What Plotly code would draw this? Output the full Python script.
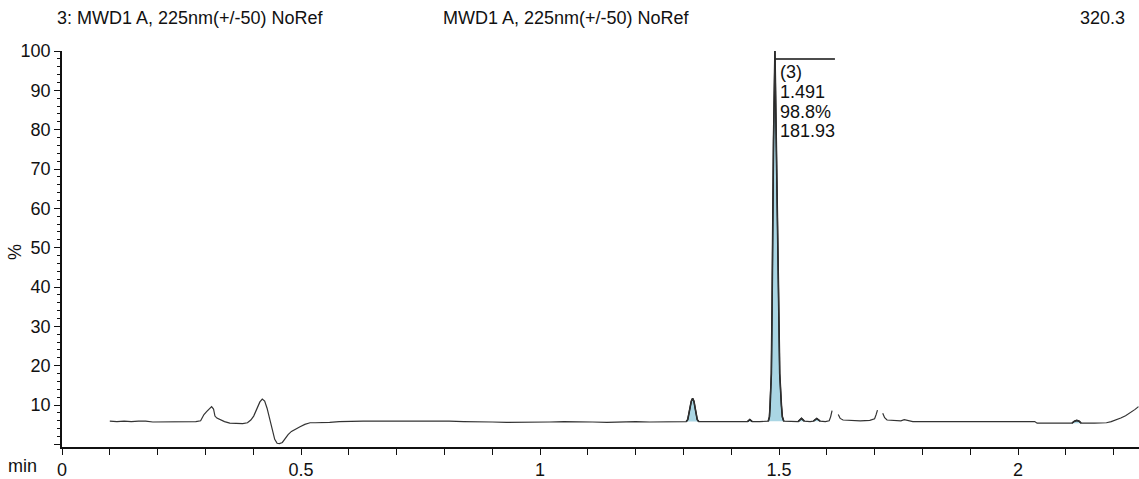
import plotly.graph_objects as go

# ---------------- data ----------------
time_min = [
    0.100, 0.115, 0.130, 0.145, 0.160, 0.175, 0.190, 0.205, 0.220, 0.235, 0.250, 0.265, 0.280,
    0.290, 0.297, 0.303, 0.308, 0.313, 0.317, 0.320, 0.324, 0.331, 0.340, 0.351, 0.365, 0.378,
    0.388, 0.395, 0.401, 0.408, 0.414, 0.419, 0.424, 0.429, 0.435, 0.440, 0.445, 0.450, 0.455,
    0.461, 0.467, 0.473, 0.480, 0.488, 0.498, 0.508, 0.519, 0.530, 0.545, 0.560, 0.580, 0.600,
    0.630, 0.660, 0.690, 0.720, 0.750, 0.780, 0.810, 0.840, 0.870, 0.900, 0.930, 0.960, 0.990,
    1.020, 1.050, 1.080, 1.110, 1.140, 1.170, 1.200, 1.230, 1.260, 1.290,
    1.306, 1.309, 1.311, 1.3135, 1.3165, 1.3193, 1.322, 1.3245, 1.327, 1.329, 1.332,
    1.360, 1.390, 1.420, 1.434, 1.439, 1.444, 1.460,
    1.4700, 1.4775, 1.4800, 1.4815, 1.4840, 1.4855, 1.4865, 1.4885, 1.4915, 1.4945, 1.4975,
    1.4995, 1.5015, 1.5050, 1.5070, 1.5100,
    1.525, 1.540, 1.547, 1.553, 1.565, 1.572, 1.579, 1.586, 1.597, 1.605, 1.608, 1.611,
    1.617,
    1.624, 1.628, 1.634, 1.650, 1.670, 1.690, 1.700, 1.703, 1.706,
    1.711,
    1.717, 1.721, 1.726, 1.740, 1.755, 1.762, 1.770, 1.780, 1.820, 1.860, 1.900, 1.940, 1.980,
    2.020, 2.035, 2.040, 2.070, 2.100, 2.113, 2.118, 2.123, 2.128, 2.132, 2.160, 2.185, 2.195,
    2.205, 2.215, 2.225, 2.235, 2.245, 2.252,
]
signal_pct = [
    5.9, 5.8, 5.9, 5.8, 5.9, 5.9, 5.7, 5.7, 5.8, 5.8, 5.7, 5.8, 5.8,
    6.0, 7.6, 8.4, 8.9, 9.6, 9.0, 7.2, 6.7, 6.3, 5.8, 5.4, 5.3, 5.3,
    5.5, 6.2, 7.2, 9.0, 10.8, 11.5, 11.0, 9.2, 6.3, 3.5, 1.3, 0.3, 0.2,
    0.5, 1.5, 2.5, 3.3, 3.9, 4.5, 5.1, 5.5, 5.5, 5.5, 5.6, 5.8, 5.9,
    5.9, 5.9, 5.9, 5.9, 6.0, 5.9, 5.9, 5.8, 5.8, 5.7, 5.6, 5.6, 5.6,
    5.7, 5.8, 5.8, 5.7, 5.6, 5.7, 5.8, 5.7, 5.8, 5.8,
    5.8, 6.3, 7.5, 9.3, 11.0, 11.7, 11.0, 9.3, 7.5, 6.3, 5.8,
    5.8, 5.7, 5.8, 5.8, 6.3, 5.8, 5.8,
    5.8, 5.9, 7.0, 10.0, 18.0, 35.0, 50.0, 77.0, 100.0, 77.0, 50.0,
    35.0, 18.0, 10.0, 7.0, 5.9,
    5.8, 5.8, 6.6, 5.9, 5.8, 5.9, 6.6, 5.9, 5.8, 6.0, 7.0, 8.6,
    None,
    7.6, 6.6, 6.2, 6.1, 6.0, 6.1, 6.5, 7.5, 8.7,
    None,
    7.9, 6.8, 6.2, 6.1, 6.0, 6.3, 6.1, 5.8, 5.8, 5.8, 5.8, 5.8, 5.8,
    5.8, 5.8, 5.4, 5.4, 5.4, 5.4, 5.9, 6.1, 5.9, 5.4, 5.4, 5.5, 5.8,
    6.2, 6.7, 7.3, 8.0, 8.9, 9.6,
]

# integrated peak windows (start, end) in minutes
peak_windows = [(1.306, 1.332), (1.434, 1.444), (1.4775, 1.5100),
                (1.540, 1.553), (1.572, 1.586), (2.113, 2.132)]

# labelled peak
peak_rt = 1.491
peak_label_lines = ["(3)", "1.491", "98.8%", "181.93"]

x_tick_vals = [0.0, 0.1, 0.2, 0.3, 0.4, 0.5, 0.6, 0.7, 0.8, 0.9, 1.0, 1.1,
               1.2, 1.3, 1.4, 1.5, 1.6, 1.7, 1.8, 1.9, 2.0, 2.1, 2.2]
x_tick_labels = ["0", "", "", "", "", "0.5", "", "", "", "", "1", "",
                 "", "", "", "1.5", "", "", "", "", "2", "", ""]
y_tick_vals = [0, 10, 20, 30, 40, 50, 60, 70, 80, 90, 100]
y_tick_labels = ["", "10", "20", "30", "40", "50", "60", "70", "80", "90", "100"]

header_left = "3: MWD1 A, 225nm(+/-50) NoRef"
header_mid = "MWD1 A, 225nm(+/-50) NoRef"
header_right = "320.3"

# ---------------- figure ----------------
W, H = 1139, 479
ML, MR, MT, MB = 62, 0, 51, 32
FONT = "Liberation Sans, Arial, sans-serif"
FS = 18

fig = go.Figure()

# filled peaks
for a, b in peak_windows:
    px = [t for t, v in zip(time_min, signal_pct) if v is not None and a <= t <= b]
    py = [v for t, v in zip(time_min, signal_pct) if v is not None and a <= t <= b]
    fig.add_trace(go.Scatter(x=px, y=py, mode="lines", fill="toself",
                             fillcolor="#aad6e4", line=dict(color="#111111", width=1.6),
                             hoverinfo="skip", showlegend=False))

# chromatogram trace
fig.add_trace(go.Scatter(x=time_min, y=signal_pct, mode="lines",
                         line=dict(color="#333333", width=1.2),
                         connectgaps=False, showlegend=False))

plot_w = W - ML - MR
plot_h = H - MT - MB


def px_x(p):
    return (p - ML) / plot_w


def px_y(p):
    return (H - MB - p) / plot_h


annotations = [
    dict(text=header_left, x=px_x(55), y=px_y(18), xanchor="left", yanchor="middle"),
    dict(text=header_mid, x=px_x(566), y=px_y(18), xanchor="center", yanchor="middle"),
    dict(text=header_right, x=px_x(1127), y=px_y(18), xanchor="right", yanchor="middle"),
    dict(text="min", x=px_x(22), y=px_y(466), xanchor="center", yanchor="middle"),
    dict(text="%", x=px_x(15), y=px_y(252), xanchor="center", yanchor="middle", textangle=-90),
]
for a in annotations:
    a.update(xref="paper", yref="paper", showarrow=False,
             font=dict(family=FONT, size=FS, color="#111111"))

# peak label lines
label_y_px = [72, 92, 112, 131]
for txt, ypx in zip(peak_label_lines, label_y_px):
    annotations.append(dict(text=txt, x=px_x(778), y=px_y(ypx), xref="paper", yref="paper",
                            xanchor="left", yanchor="middle", showarrow=False,
                            font=dict(family=FONT, size=FS, color="#111111")))

fig.update_layout(
    width=W, height=H,
    margin=dict(l=ML, r=MR, t=MT, b=MB),
    paper_bgcolor="white", plot_bgcolor="white",
    font=dict(family=FONT, size=FS, color="#111111"),
    annotations=annotations,
    shapes=[dict(type="line", xref="x", yref="paper",
                 x0=peak_rt + 0.002, x1=peak_rt + 0.126,
                 y0=px_y(59), y1=px_y(59),
                 line=dict(color="#111111", width=1.6))],
    xaxis=dict(range=[0, plot_w / 478.0], showgrid=False, zeroline=False,
               showline=True, linecolor="#111111", linewidth=1.6,
               ticks="outside", ticklen=6, tickcolor="#111111", tickwidth=1.2,
               tickvals=x_tick_vals, ticktext=x_tick_labels,
               tickfont=dict(family=FONT, size=FS, color="#111111")),
    yaxis=dict(range=[-0.66, 100], showgrid=False, zeroline=False,
               showline=True, linecolor="#111111", linewidth=1.6,
               ticks="outside", ticklen=6, tickcolor="#111111", tickwidth=1.2,
               tickvals=y_tick_vals, ticktext=y_tick_labels,
               tickfont=dict(family=FONT, size=FS, color="#111111"),
               minor=dict(dtick=2, tick0=0, ticks="outside", ticklen=3,
                          tickcolor="#111111", tickwidth=1, showgrid=False)),
)

fig.write_html("out.html")
